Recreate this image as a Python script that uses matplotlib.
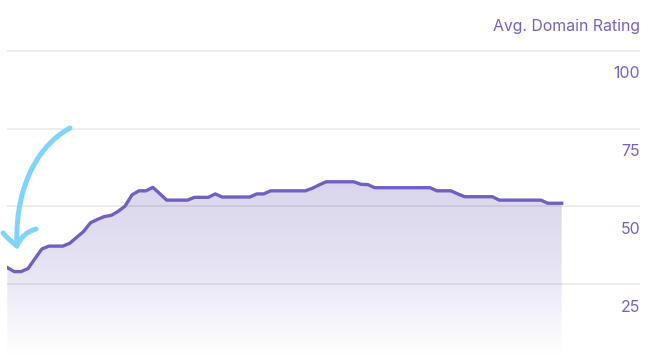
import numpy as np
import matplotlib
matplotlib.use("Agg")
import matplotlib.pyplot as plt
from matplotlib.path import Path
from matplotlib.patches import PathPatch
from matplotlib.colors import LinearSegmentedColormap

# ---- data ----
dr_values = [30.3, 29.0, 29.0, 30.0, 33.2, 36.3, 37.2, 37.2, 37.2, 38.1,
             40.0, 41.9, 44.7, 45.8, 46.7, 47.1, 48.4, 50.1, 53.7, 55.0,
             55.0, 56.1, 54.1, 52.0, 52.0, 52.0, 52.0, 52.9, 52.9, 52.9,
             54.0, 53.0, 53.0, 53.0, 53.0, 53.0, 54.0, 54.0, 55.0, 55.0,
             55.0, 55.0, 55.0, 55.0, 55.8, 56.9, 57.9, 57.9, 57.9, 57.9,
             57.9, 57.1, 57.0, 56.0, 56.0, 56.0, 56.0, 56.0, 56.0, 56.0,
             56.0, 56.0, 55.0, 55.0, 55.0, 54.0, 53.1, 53.1, 53.1, 53.1,
             53.1, 52.0, 52.0, 52.0, 52.0, 52.0, 52.0, 52.0, 51.0, 51.0,
             51.0]
day_index = list(range(len(dr_values)))
y_ticks = [25, 50, 75, 100]
title_text = "Avg. Domain Rating"

LINE = "#735fc2"
TEXT = "#7561c4"

W, H = 653, 355
fig = plt.figure(figsize=(W / 100, H / 100), dpi=100)

# axes in pixel geometry
ax_left, ax_right = 7.3, 640
y100, y0 = 51.0, 361.7
px_per_unit = (y0 - y100) / 100.0
ylo = (y0 - H) / px_per_unit  # value at bottom of figure
ax_top_px = y100 - 0.5 * px_per_unit
ax = fig.add_axes([ax_left / W, 0, (ax_right - ax_left) / W, (H - ax_top_px) / H])
ax.set_ylim(ylo, 100.5)
xstep = (561.7 - 7.3) / (len(dr_values) - 1)
ax.set_xlim(0, (ax_right - ax_left) / xstep)

for s in ax.spines.values():
    s.set_visible(False)
ax.set_xticks([])
ax.set_yticks([])
for t in y_ticks:
    ax.axhline(t, color="#000000", alpha=0.09, lw=1.1, zorder=2.5)

x = np.array(day_index, dtype=float)
y = np.array(dr_values)

# gradient fill clipped to area under line
poly = ax.fill_between(x, y, ylo, color="none", lw=0)
grad = np.linspace(0, 1, 256).reshape(-1, 1)
cmap = LinearSegmentedColormap.from_list("g", ["#ffffff", "#e6e3f3", "#d9d4ec"])
im = ax.imshow(grad, cmap=cmap, aspect="auto", origin="lower",
               extent=[x.min(), x.max(), ylo, 60], zorder=2, interpolation="bilinear")
im.set_clip_path(poly.get_paths()[0], transform=ax.transData)
ax.plot(x, y, color=LINE, lw=2.4, zorder=3, solid_joinstyle="round")

# tick labels
for t in y_ticks:
    ypx = y0 - t * px_per_unit + 23
    fig.text(ax_right / W, (H - ypx) / H, str(t), ha="right", va="center",
             color=TEXT, fontsize=11.4, family="Inter")
fig.text(ax_right / W, (H - 26) / H, title_text, ha="right", va="center",
         color=TEXT, fontsize=11.4, family="Inter")

# hand-drawn arrow annotation (pixel coords)
def P(px, py):
    return (px / W, (H - py) / H)

verts = [P(70, 128), P(30, 150), P(15, 200), P(17, 245)]
codes = [Path.MOVETO, Path.CURVE4, Path.CURVE4, Path.CURVE4]
arrow_col = "#80d4fc"
for vv, cc in [(verts, codes),
               ([P(3, 233), P(9, 240), P(17, 246)], [Path.MOVETO, Path.CURVE3, Path.CURVE3]),
               ([P(36, 229), P(22, 233), P(17, 246)], [Path.MOVETO, Path.CURVE3, Path.CURVE3])]:
    pp = PathPatch(Path(vv, cc), transform=fig.transFigure, fill=False,
                   edgecolor=arrow_col, lw=3.6, capstyle="round", joinstyle="round")
    fig.add_artist(pp)

fig.savefig("out.png", dpi=100)
